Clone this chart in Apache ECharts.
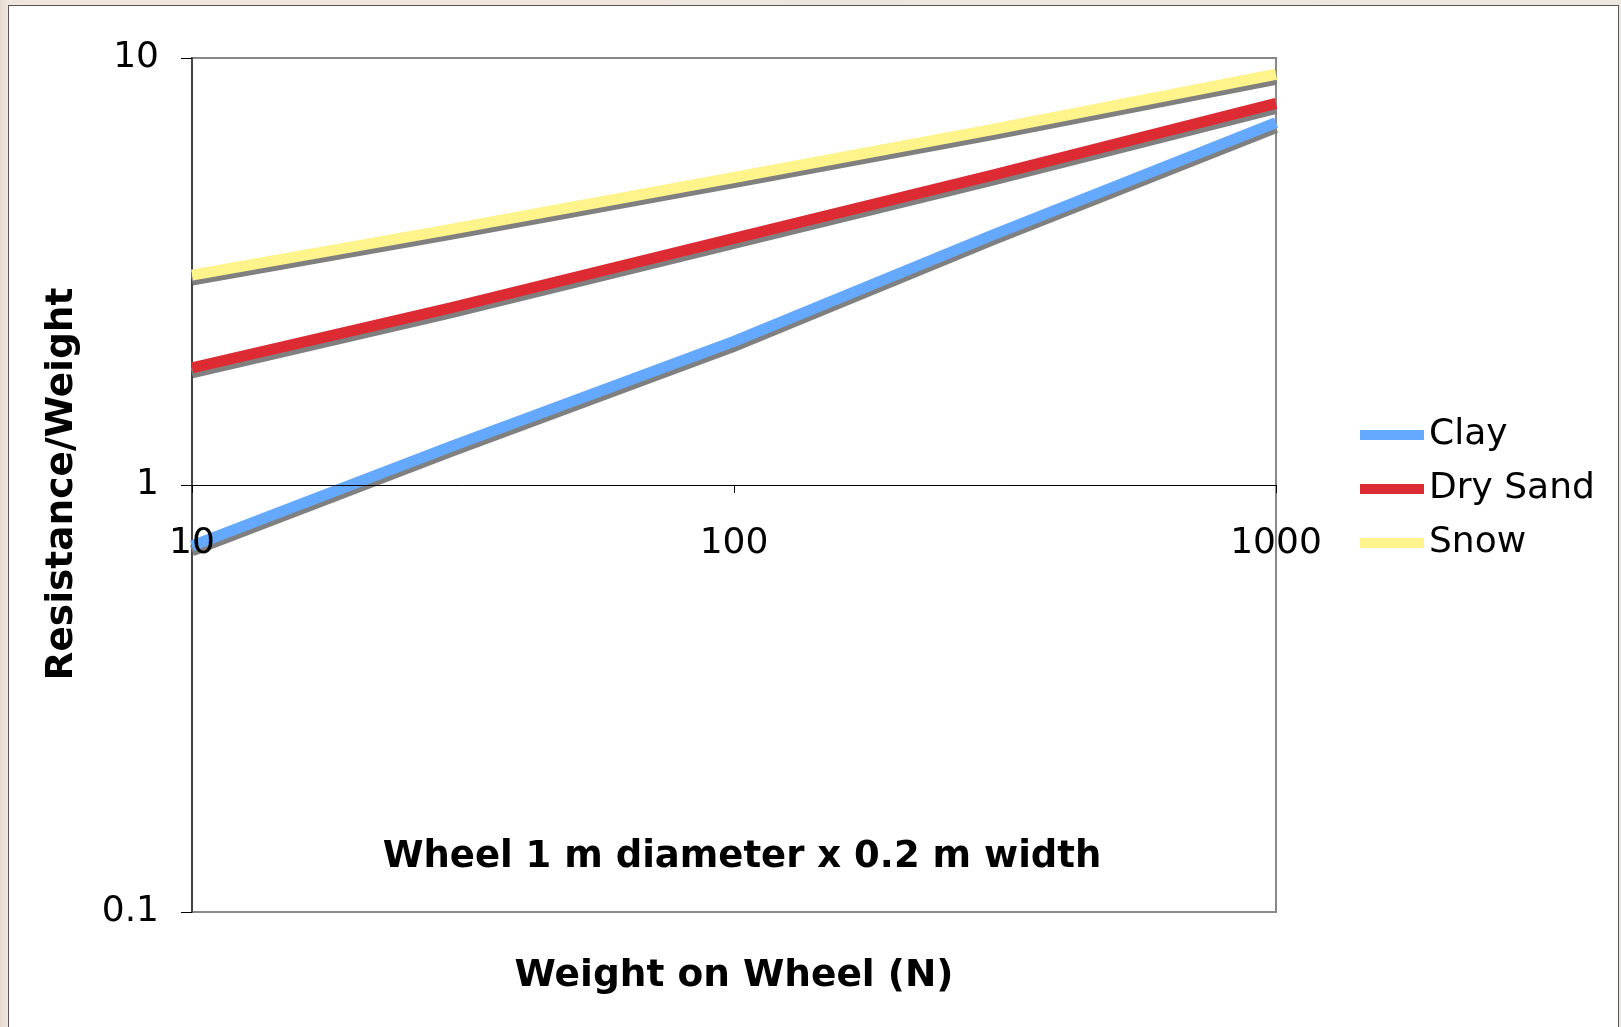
<!DOCTYPE html>
<html>
<head>
<meta charset="utf-8">
<script src="https://cdn.jsdelivr.net/npm/echarts@6/dist/echarts.min.js"></script>
<style>
  html, body { margin: 0; padding: 0; width: 1621px; height: 1027px; overflow: hidden;
    background: linear-gradient(90deg, #eadbd2 0px, #efe6df 8px, #ece7df 100%); }
  #frame { position: absolute; left: 8px; top: 5px; width: 1611px; height: 1030px;
    background: #ffffff; border: 1px solid #555; box-sizing: border-box; }
  #chart { position: absolute; left: 0; top: 0; width: 1621px; height: 1027px; }
</style>
</head>
<body>
<div id="frame"></div>
<div id="chart"></div>
<script>
const weights = [10, 30, 100, 300, 1000];
const clay = [0.72, 1.23, 2.17, 3.85, 7.06];
const drySand = [1.88, 2.6, 3.78, 5.32, 7.83];
const snow = [3.10, 3.97, 5.25, 6.8, 9.16];
const seriesNames = ['Clay', 'Dry Sand', 'Snow'];
const xTickLabels = ['10', '100', '1000'];
const yTickLabels = ['0.1', '1', '10'];
const annotation = 'Wheel 1 m diameter x 0.2 m width';
const xTitle = 'Weight on Wheel (N)';
const yTitle = 'Resistance/Weight';

const colors = ['#64a9fd', '#dd2b33', '#fff38c'];
const font = 'DejaVu Sans';

function pairs(vals) { return weights.map((w, i) => [w, vals[i]]); }

const chart = echarts.init(document.getElementById('chart'), null, { renderer: 'canvas' });

const gridTop = 58, gridBottom = 115;
const plotH = 1027 - gridTop - gridBottom;

function mkSeries(name, vals, color) {
  return {
    name: name, type: 'line', data: pairs(vals), showSymbol: false, symbol: 'none',
    color: color, z: 2,
    lineStyle: { width: 11, color: color, cap: 'butt', join: 'miter',
      shadowColor: '#808080', shadowOffsetY: 5, shadowOffsetX: 0, shadowBlur: 0 },
    emphasis: { disabled: true },
    animation: false
  };
}

chart.setOption({
  animation: false,
  textStyle: { fontFamily: font },
  grid: { left: 192, right: 345, top: gridTop, bottom: gridBottom, show: true,
    borderColor: '#888888', borderWidth: 2, backgroundColor: 'transparent' },
  legend: {
    orient: 'vertical', left: 1355, top: 410,
    itemWidth: 64, itemHeight: 10, itemGap: 14, icon: 'rect',
    textStyle: { fontFamily: font, fontSize: 36, color: '#000', lineHeight: 40, padding: [0,0,0,0] },
    data: seriesNames
  },
  xAxis: {
    type: 'log', logBase: 10, min: 10, max: 1000,
    position: 'bottom', z: 5,
    offset: -(plotH / 2),
    axisLine: { show: true, onZero: false, lineStyle: { color: '#000', width: 1 } },
    axisTick: { show: true, length: 8, lineStyle: { color: '#000' } },
    minorTick: { show: false },
    splitLine: { show: false },
    axisLabel: { margin: 41, fontSize: 36, color: '#000', fontFamily: font,
      formatter: function (v) { const s = String(Math.round(v)); return xTickLabels.indexOf(s) >= 0 ? s : ''; } }
  },
  yAxis: {
    type: 'log', logBase: 10, min: 0.1, max: 10,
    axisLine: { show: true, lineStyle: { color: '#444', width: 2 } },
    axisTick: { show: true, length: 11, lineStyle: { color: '#000' } },
    splitLine: { show: false },
    axisLabel: { margin: 33, fontSize: 36, color: '#000', fontFamily: font,
      formatter: function (v) { const s = String(+v.toPrecision(3)); return yTickLabels.indexOf(s) >= 0 ? s : ''; } }
  },
  graphic: [
    { type: 'text', x: 742, y: 857, silent: true,
      style: { text: annotation, fontFamily: font, fontWeight: 'bold', fontSize: 37, fill: '#000',
        textAlign: 'center', textVerticalAlign: 'middle' } },
    { type: 'text', x: 734, y: 976, silent: true,
      style: { text: xTitle, fontFamily: font, fontWeight: 'bold', fontSize: 37.5, fill: '#000',
        textAlign: 'center', textVerticalAlign: 'middle' } },
    { type: 'text', x: 62, y: 484, rotation: Math.PI / 2, silent: true,
      style: { text: yTitle, fontFamily: font, fontWeight: 'bold', fontSize: 37.5, fill: '#000',
        textAlign: 'center', textVerticalAlign: 'middle' } }
  ],
  series: [
    mkSeries(seriesNames[0], clay, colors[0]),
    mkSeries(seriesNames[1], drySand, colors[1]),
    mkSeries(seriesNames[2], snow, colors[2])
  ]
});
</script>
</body>
</html>
